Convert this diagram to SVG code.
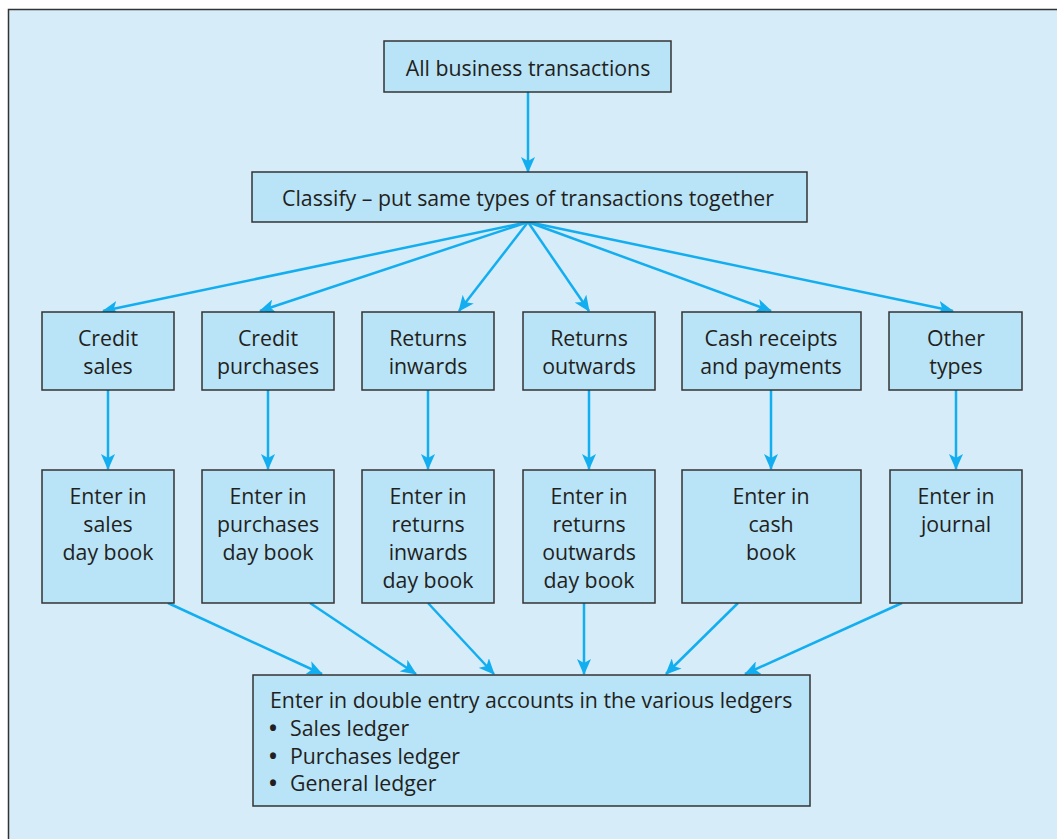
<svg xmlns="http://www.w3.org/2000/svg" width="1057" height="839" viewBox="0 0 1057 839">
<defs>
<style>
.bg{fill:#d6ecf9;stroke:#333;stroke-width:1.5}
.box{fill:#b9e4f8;stroke:#333;stroke-width:1.5}
.t{font-family:"Open Sans","Noto Sans",sans-serif;font-size:21.3px;fill:#231f20}
.c{text-anchor:middle}
.b{font-weight:bold}
.a{stroke:#12aef0;stroke-width:2.5;fill:none;marker-end:url(#ah)}
</style>
<marker id="ah" markerUnits="userSpaceOnUse" markerWidth="16" markerHeight="14" viewBox="0 0 16 14" refX="15" refY="7" orient="auto">
<path d="M0,0 L16,7 L0,14 L4,7 z" fill="#12aef0"/>
</marker>
</defs>
<rect class="bg" x="8.5" y="9.5" width="1060" height="840"/>
<g id="connectors">
<line class="a" x1="528" y1="92" x2="528" y2="172"/>
<line class="a" x1="528" y1="222" x2="103" y2="311"/>
<line class="a" x1="528" y1="222" x2="260" y2="311"/>
<line class="a" x1="528" y1="222" x2="459" y2="311"/>
<line class="a" x1="528" y1="222" x2="589" y2="311"/>
<line class="a" x1="528" y1="222" x2="771" y2="311"/>
<line class="a" x1="528" y1="222" x2="953" y2="311"/>
<line class="a" x1="108" y1="390" x2="108" y2="469"/>
<line class="a" x1="268" y1="390" x2="268" y2="469"/>
<line class="a" x1="428" y1="390" x2="428" y2="469"/>
<line class="a" x1="589" y1="390" x2="589" y2="469"/>
<line class="a" x1="771" y1="390" x2="771" y2="469"/>
<line class="a" x1="956" y1="390" x2="956" y2="469"/>
<line class="a" x1="168" y1="603" x2="322" y2="674"/>
<line class="a" x1="310" y1="603" x2="416" y2="674"/>
<line class="a" x1="428" y1="603" x2="494" y2="674"/>
<line class="a" x1="584" y1="603" x2="584" y2="674"/>
<line class="a" x1="738" y1="603" x2="666" y2="674"/>
<line class="a" x1="902" y1="603" x2="745" y2="674"/>
</g>
<g id="n_all"><rect class="box" x="384" y="41" width="287" height="51"/><text class="t c" x="528" y="76">All business transactions</text></g>
<g id="n_classify"><rect class="box" x="252" y="172" width="555" height="50"/><text class="t c" x="528" y="206">Classify – put same types of transactions together</text></g>
<g id="n_cs"><rect class="box" x="42" y="312" width="132" height="78"/><text class="t c" x="108" y="346">Credit</text><text class="t c" x="108" y="374">sales</text></g>
<g id="n_cp"><rect class="box" x="202" y="312" width="132" height="78"/><text class="t c" x="268" y="346">Credit</text><text class="t c" x="268" y="374">purchases</text></g>
<g id="n_ri"><rect class="box" x="362" y="312" width="132" height="78"/><text class="t c" x="428" y="346">Returns</text><text class="t c" x="428" y="374">inwards</text></g>
<g id="n_ro"><rect class="box" x="523" y="312" width="132" height="78"/><text class="t c" x="589" y="346">Returns</text><text class="t c" x="589" y="374">outwards</text></g>
<g id="n_cr"><rect class="box" x="682" y="312" width="179" height="78"/><text class="t c" x="771" y="346">Cash receipts</text><text class="t c" x="771" y="374">and payments</text></g>
<g id="n_ot"><rect class="box" x="889" y="312" width="133" height="78"/><text class="t c" x="956" y="346">Other</text><text class="t c" x="956" y="374">types</text></g>
<g id="n_sdb"><rect class="box" x="42" y="470" width="132" height="133"/><text class="t c" x="108" y="504">Enter in</text><text class="t c" x="108" y="532">sales</text><text class="t c" x="108" y="560">day book</text></g>
<g id="n_pdb"><rect class="box" x="202" y="470" width="132" height="133"/><text class="t c" x="268" y="504">Enter in</text><text class="t c" x="268" y="532">purchases</text><text class="t c" x="268" y="560">day book</text></g>
<g id="n_ridb"><rect class="box" x="362" y="470" width="132" height="133"/><text class="t c" x="428" y="504">Enter in</text><text class="t c" x="428" y="532">returns</text><text class="t c" x="428" y="560">inwards</text><text class="t c" x="428" y="588">day book</text></g>
<g id="n_rodb"><rect class="box" x="523" y="470" width="132" height="133"/><text class="t c" x="589" y="504">Enter in</text><text class="t c" x="589" y="532">returns</text><text class="t c" x="589" y="560">outwards</text><text class="t c" x="589" y="588">day book</text></g>
<g id="n_cb"><rect class="box" x="682" y="470" width="179" height="133"/><text class="t c" x="771" y="504">Enter in</text><text class="t c" x="771" y="532">cash</text><text class="t c" x="771" y="560">book</text></g>
<g id="n_j"><rect class="box" x="890" y="470" width="132" height="133"/><text class="t c" x="956" y="504">Enter in</text><text class="t c" x="956" y="532">journal</text></g>
<g id="n_ledgers"><rect class="box" x="253" y="675" width="557" height="131"/>
<text class="t" x="270" y="708">Enter in double entry accounts in the various ledgers</text>
<text class="t" x="269" y="736"><tspan class="b">•</tspan><tspan x="290">Sales ledger</tspan></text>
<text class="t" x="269" y="764"><tspan class="b">•</tspan><tspan x="290">Purchases ledger</tspan></text>
<text class="t" x="269" y="791"><tspan class="b">•</tspan><tspan x="290">General ledger</tspan></text>
</g>
</svg>
